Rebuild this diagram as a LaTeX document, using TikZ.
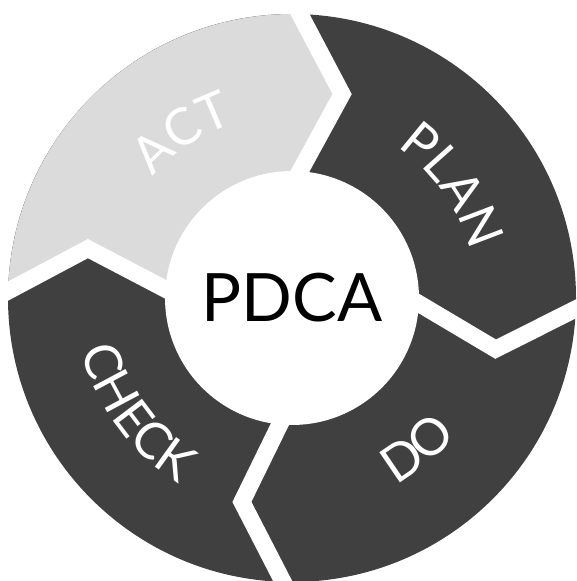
\documentclass[tikz,border=0pt]{standalone}
\usepackage{fontspec}
\setmainfont{Lato}
\usetikzlibrary{calc,decorations.text}

\definecolor{darkseg}{gray}{0.25}
\definecolor{lightseg}{gray}{0.86}

\begin{document}
\begin{tikzpicture}[x=0.02cm, y=0.02cm,
    gap/.style={white, line width=0.34cm, line join=miter},
    seglabel/.style={decorate, decoration={text along path, text align=center,
        text={|\color{white}\fontsize{29}{29}\selectfont|#1}}}]
    \def\Rout{284}
    \def\Rin{127}
    \def\Rnotch{210}

    \useasboundingbox (-292,-283) rectangle (284,298);
    \clip (-292,-283) rectangle (284,298);

    % gap points: outer, notch, inner
    \foreach \k/\ao/\an/\ai in {1/88.4/76.2/86.4, 2/-2.2/-14.1/-2.5, 3/-91.8/-103.8/-95.5, 4/178.6/166.4/176}{
        \coordinate (o\k) at (\ao:\Rout);
        \coordinate (n\k) at (\an:\Rnotch);
        \coordinate (i\k) at (\ai:\Rin);
    }

    % Ring
    \fill[darkseg] (0,0) circle (\Rout);
    \fill[lightseg] (o1) -- (n1) -- (i1) -- (0,0) -- (i4) -- (n4) -- (o4)
        arc[start angle=178.6, end angle=88.4, radius=\Rout] -- cycle;

    % Gaps
    \foreach \k in {1,...,4}
        \draw[gap] ($(o\k)!-0.3!(n\k)$) -- (n\k) -- ($(i\k)!-0.3!(n\k)$);

    % Hub
    \node[circle, fill=white, inner sep=0pt, minimum size=5.08cm,
        font=\fontsize{38}{38}\selectfont] (pdca) at (0,0) {PDCA};

    % Labels
    \path[seglabel=ACT] (153.7:184) arc[start angle=153.7, end angle=93.7, radius=184];
    \path[seglabel=PLAN] (65:184) arc[start angle=65, end angle=5, radius=184];
    \path[seglabel=DO] (-80.3:214) arc[start angle=-80.3, end angle=-20.3, radius=214];
    \path[seglabel=CHECK] (-178.6:217) arc[start angle=-178.6, end angle=-108.6, radius=217];

\end{tikzpicture}
\end{document}
